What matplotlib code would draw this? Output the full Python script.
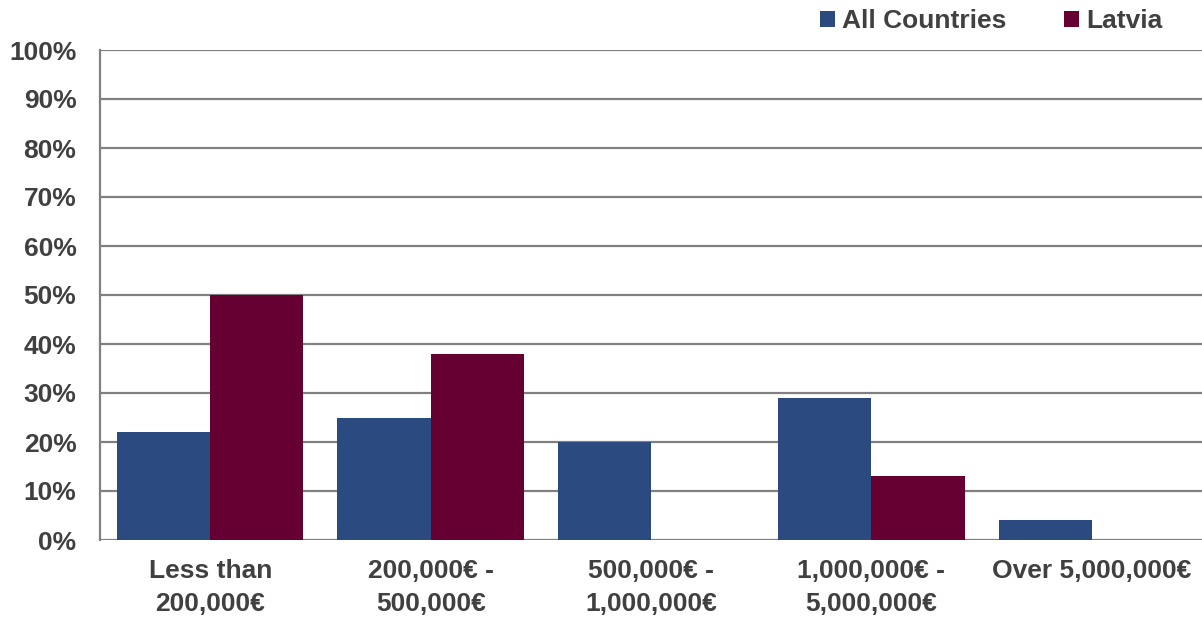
import matplotlib
matplotlib.use("Agg")
import matplotlib.pyplot as plt
import numpy as np
from matplotlib.patches import Patch

categories = ["Less than\n200,000€", "200,000€ -\n500,000€", "500,000€ -\n1,000,000€",
              "1,000,000€ -\n5,000,000€", "Over 5,000,000€"]
all_countries = [22, 25, 20, 29, 4]
latvia = [50, 38, 0, 13, 0]
series_names = ["All Countries", "Latvia"]
yticks = list(range(0, 101, 10))
ytick_labels = [f"{v}%" for v in yticks]

BLUE = "#2A4A80"
RED = "#660033"
GRID = "#808080"
TEXT = "#404040"

plt.rcParams['font.family'] = ['Liberation Sans', 'DejaVu Sans']
plt.rcParams['font.weight'] = 'bold'

W, H = 1202, 619
fig = plt.figure(figsize=(W / 100, H / 100), dpi=100)
ax = fig.add_axes([100 / W, (H - 540) / H, (1202 - 100) / W, (540 - 50) / H])

x = np.arange(len(categories))
bw = 0.423
ax.bar(x - bw / 2, all_countries, width=bw, color=BLUE, zorder=3, linewidth=0)
ax.bar(x + bw / 2, latvia, width=bw, color=RED, zorder=3, linewidth=0)

ax.set_xlim(-0.5, len(categories) - 0.5)
ax.set_ylim(0, 100)
ax.set_yticks(yticks)
ax.set_yticklabels(ytick_labels)
ax.set_xticks(x)
ax.set_xticklabels(categories, linespacing=1.45)

for v in yticks:
    ax.axhline(v, color=GRID, linewidth=1.6, zorder=1)

for s in ["top", "right", "bottom"]:
    ax.spines[s].set_visible(False)
ax.spines["left"].set_color(GRID)
ax.spines["left"].set_linewidth(1.6)

ax.tick_params(axis='both', length=0, labelsize=19, labelcolor=TEXT)
ax.tick_params(axis='y', pad=17)
ax.tick_params(axis='x', pad=14)
for lbl in ax.get_xticklabels() + ax.get_yticklabels():
    lbl.set_fontweight('bold')

handles = [Patch(facecolor=BLUE, edgecolor='none'), Patch(facecolor=RED, edgecolor='none')]
leg = fig.legend(handles, series_names, loc='center right', bbox_to_anchor=(1162 / W, 1 - 21 / H),
                 ncol=2, frameon=False, fontsize=19, handlelength=0.55, handleheight=0.55,
                 handletextpad=0.27, columnspacing=2.2, borderpad=0, borderaxespad=0)
for t in leg.get_texts():
    t.set_color(TEXT)
    t.set_fontweight('bold')

fig.savefig("out.png", dpi=100)
